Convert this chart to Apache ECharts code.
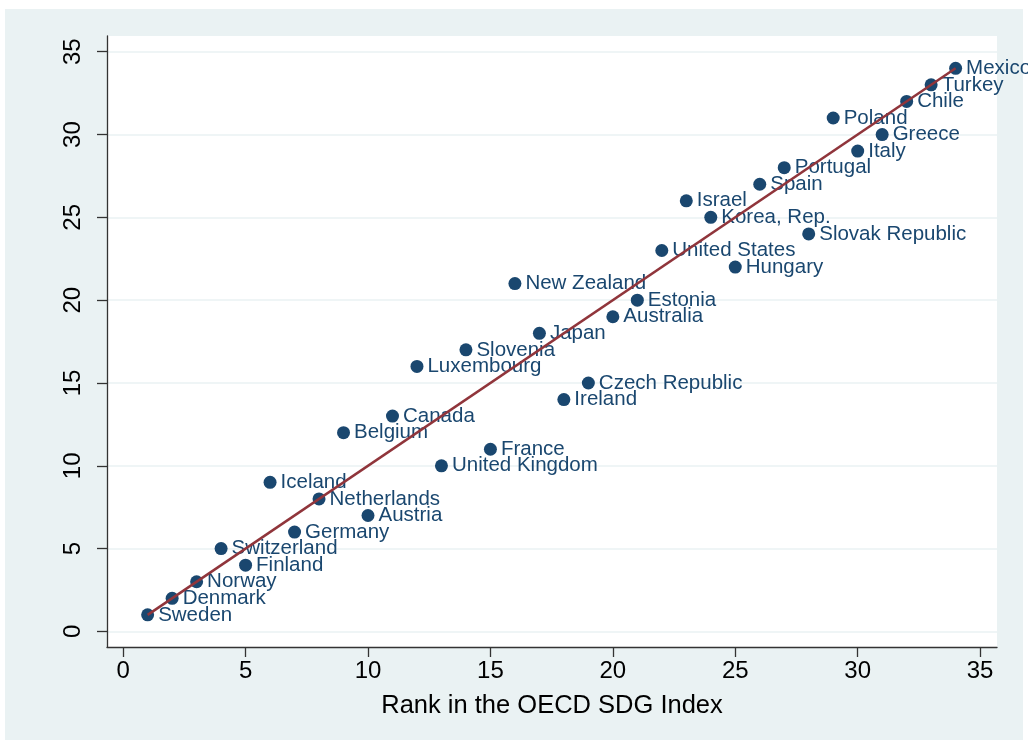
<!DOCTYPE html>
<html>
<head>
<meta charset="utf-8">
<script src="https://cdn.jsdelivr.net/npm/echarts@6/dist/echarts.min.js"></script>
<style>
html,body{margin:0;padding:0;background:#ffffff;}
#c{width:1028px;height:740px;}
</style>
</head>
<body>
<div id="c"></div>
<script>
const countries = ["Sweden","Denmark","Norway","Finland","Switzerland","Germany","Austria","Netherlands","Iceland","United Kingdom","France","Belgium","Canada","Ireland","Czech Republic","Luxembourg","Slovenia","Japan","Australia","Estonia","New Zealand","Hungary","United States","Slovak Republic","Korea, Rep.","Israel","Spain","Portugal","Italy","Greece","Poland","Chile","Turkey","Mexico"];
const sdgRank = [1,2,3,5,4,7,10,8,6,13,15,9,11,18,19,12,14,17,20,21,16,25,22,28,24,23,26,27,30,31,29,32,33,34];
const otherRank = [1,2,3,4,5,6,7,8,9,10,11,12,13,14,15,16,17,18,19,20,21,22,23,24,25,26,27,28,29,30,31,32,33,34];
const fitX = [1,34];
const fitY = [1,34];
const xTicks = [0,5,10,15,20,25,30,35];
const yTicks = [0,5,10,15,20,25,30,35];
const xTitle = "Rank in the OECD SDG Index";

const FONT = "Liberation Sans, Arial, Helvetica, sans-serif";
const NAVY = "#1a476f";
const MAROON = "#90353b";
const BG = "#eaf2f3";

const chart = echarts.init(document.getElementById('c'), null, {renderer:'canvas'});
const option = {
  backgroundColor: '#ffffff',
  animation: false,
  graphic: [{
    type: 'rect', z: -10, silent: true,
    shape: {x: 5, y: 9, width: 1018, height: 731},
    style: {fill: BG}
  }],
  grid: {
    left: 107, right: 31, top: 36, bottom: 93,
    show: true, backgroundColor: '#ffffff', borderWidth: 0
  },
  xAxis: {
    type: 'value', min: -0.66, max: 35.69,
    name: xTitle, nameLocation: 'middle', nameGap: 46,
    nameTextStyle: {fontFamily: FONT, fontSize: 25.5, color: '#000'},
    axisLine: {show: true, onZero: false, lineStyle: {color: '#333', width: 1.3}},
    axisTick: {show: true, length: 10, customValues: xTicks, lineStyle: {color: '#333', width: 1.3}},
    axisLabel: {customValues: xTicks, margin: 12, fontFamily: FONT, fontSize: 24, color: '#000'},
    splitLine: {show: false}
  },
  yAxis: {
    type: 'value', min: -0.94, max: 35.95,
    axisLine: {show: true, onZero: false, lineStyle: {color: '#333', width: 1.3}},
    axisTick: {show: true, length: 10, customValues: yTicks, lineStyle: {color: '#333', width: 1.3}},
    axisLabel: {customValues: yTicks, rotate: 90, margin: 22, fontFamily: FONT, fontSize: 24, color: '#000'},
    splitLine: {show: false}
  },
  series: [
    {
      type: 'scatter',
      symbol: 'circle', symbolSize: 13,
      itemStyle: {color: NAVY, opacity: 1},
      data: sdgRank.map((x, i) => ({value: [x, otherRank[i]], name: countries[i]})),
      label: {
        show: true, position: 'right', distance: 4,
        formatter: p => p.name,
        fontFamily: FONT, fontSize: 20.5, color: NAVY
      },
      markLine: {
        silent: true, symbol: 'none', z: 0,
        label: {show: false},
        lineStyle: {color: BG, width: 1.5, type: 'solid'},
        data: yTicks.map(v => ({yAxis: v}))
      },
      z: 3
    },
    {
      type: 'line',
      data: fitX.map((x, i) => [x, fitY[i]]),
      symbol: 'none',
      lineStyle: {color: MAROON, width: 2.5},
      z: 5
    }
  ]
};
chart.setOption(option);
</script>
</body>
</html>
